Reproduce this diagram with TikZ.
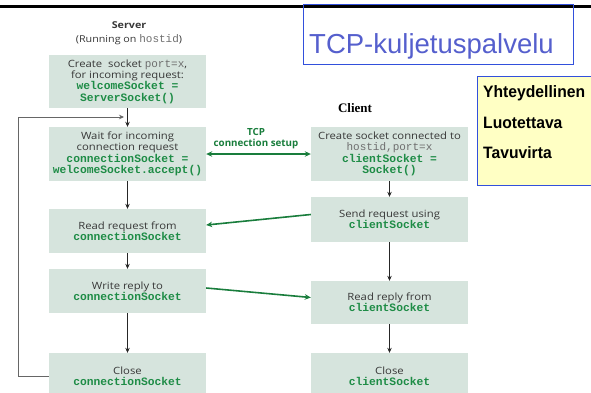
\documentclass[tikz,border=0pt]{standalone}
\usepackage{fontspec}
\usetikzlibrary{arrows.meta}
\setmainfont{Open Sans}
\newfontfamily\boxfont{Open Sans}[FakeStretch=1.13]
\newfontfamily\titlefont{Liberation Sans}
\newfontfamily\notefont{Liberation Sans}[FakeStretch=0.95]
\newfontfamily\monofont{Liberation Mono}
\newfontfamily\clientfont{Liberation Serif}
\definecolor{boxfill}{RGB}{214,228,221}
\definecolor{codegreen}{RGB}{30,140,70}
\definecolor{textgray}{RGB}{55,55,55}
\definecolor{hostgray}{RGB}{110,110,110}
\definecolor{wiregreen}{RGB}{25,125,60}
\definecolor{titleblue}{RGB}{85,95,205}
\definecolor{frameblue}{RGB}{50,80,220}
\definecolor{notefill}{RGB}{255,255,196}
\newcommand\sockname[1]{{\monofont\bfseries\fontsize{11.3}{11.5}\selectfont\color{codegreen}#1}}
\newcommand\hostname[1]{{\monofont\fontsize{11}{11.5}\selectfont\color{hostgray}#1}}
\begin{document}
\begin{tikzpicture}[x=1pt,y=-1pt,
  box/.style={fill=boxfill,minimum width=157pt,align=center,inner sep=1pt,
    font=\boxfont\fontsize{10}{11.4}\selectfont,text=textgray},
  flow/.style={-{Stealth[length=5pt,width=4.5pt]},draw=black!85,line width=0.7pt},
  wire/.style={-{Stealth[length=6pt,width=5.5pt]},draw=wiregreen,line width=1.6pt}]
  \useasboundingbox (0,0) rectangle (591,392);

  \draw[line width=3pt] (0,6) -- (591,6);
  \draw[frameblue,line width=0.8pt] (303,4) rectangle (573,64);
  \node[anchor=base west,inner sep=0,text=titleblue,
    font=\titlefont\fontsize{27.5}{30}\selectfont] (title) at (309,53) {TCP-kuljetuspalvelu};

  \draw[frameblue,line width=1pt,fill=notefill] (477,76) rectangle (595,185);
  \foreach \w/\y [count=\i] in {Yhteydellinen/97,Luotettava/128,Tavuvirta/158}
  \node[anchor=base west,inner sep=0,font=\notefont\bfseries\fontsize{16.5}{20}\selectfont] (prop\i) at (483,\y) {\w};

  \node[text=textgray,align=center,font=\boxfont\fontsize{9.5}{14}\selectfont] (server) at (129,33)
    {\textbf{Server}\\(Running on \hostname{hostid})};
  \node[font=\clientfont\bfseries\fontsize{13}{15}\selectfont] (client) at (355,108) {Client};

  \node[box,minimum height=53pt] (s1) at (127.5,81.5)
    {Create\ \ socket \hostname{port=x},\\for incoming request:\\\sockname{welcomeSocket =}\\\sockname{ServerSocket()}};
  \node[box,minimum height=54pt] (s2) at (127.5,154)
    {Wait for incoming\\connection request\\\sockname{connectionSocket =}\\\sockname{welcomeSocket.accept()}};
  \node[box,minimum height=44pt] (s3) at (127.5,231)
    {Read request from\\\sockname{connectionSocket}};
  \node[box,minimum height=44pt] (s4) at (127.5,291)
    {Write reply to\\\sockname{connectionSocket}};
  \node[box,minimum height=46pt] (s5) at (127.5,376)
    {Close\\\sockname{connectionSocket}};

  \node[box,minimum height=54pt] (c1) at (389.5,154)
    {Create socket connected to\\\hostname{hostid,port=x}\\\sockname{clientSocket =}\\\sockname{Socket()}};
  \node[box,minimum height=45pt] (c2) at (389.5,219.5)
    {Send request using\\\sockname{clientSocket}};
  \node[box,minimum height=43pt] (c3) at (389.5,302.5)
    {Read reply from\\\sockname{clientSocket}};
  \node[box,minimum height=46pt] (c4) at (389.5,376)
    {Close\\\sockname{clientSocket}};

  \foreach \a/\b in {s1/s2,s2/s3,s3/s4,s4/s5,c1/c2,c2/c3,c3/c4}
  \draw[flow] (\a) -- (\b);

  \coordinate (loop) at (18,117);
  \coordinate (back) at (124,117);
  \draw[flow,draw=black!60] (s5.west) -| (loop) -- (back);

  \node[text=wiregreen,align=center,font=\bfseries\fontsize{9.8}{11}\selectfont] (setup) at (256,139)
    {TCP\\connection setup};
  \draw[wire,{Stealth[length=6pt,width=5.5pt]}-{Stealth[length=6pt,width=5.5pt]}] (s2.east) -- (c1.west);
  \draw[wire] ([yshift=5pt]c2.west) -- ([yshift=6pt]s3.east);
  \draw[wire] ([yshift=3pt]s4.east) -- ([yshift=5pt]c3.west);
\end{tikzpicture}
\end{document}
